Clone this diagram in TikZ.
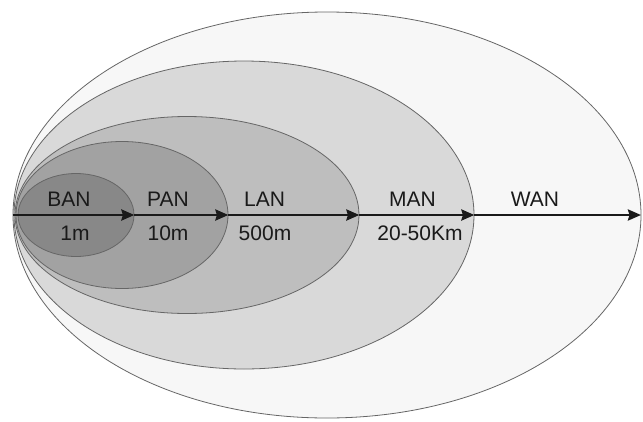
\documentclass[tikz,border=0pt]{standalone}
\usepackage{fontspec}
\setmainfont{Liberation Sans}
\usetikzlibrary{shapes.geometric,arrows.meta}

\definecolor{banfill}{HTML}{888888}
\definecolor{panfill}{HTML}{A2A2A2}
\definecolor{lanfill}{HTML}{BEBEBE}
\definecolor{manfill}{HTML}{D9D9D9}
\definecolor{wanfill}{HTML}{F7F7F7}
\definecolor{rimgray}{HTML}{666666}
\definecolor{inkgray}{HTML}{1A1A1A}

\tikzset{
  zone/.style={ellipse, draw=rimgray, line width=0.8pt, inner sep=0pt},
  reachline/.style={draw=inkgray, line width=2.6pt,
    -{Stealth[length=13pt, width=11pt, inset=1.5pt]}},
  tag/.style={anchor=base, text=inkgray, font=\fontsize{21}{24}\selectfont, inner sep=0pt}
}

\begin{document}
\begin{tikzpicture}[x=1pt, y=-1pt]
  \useasboundingbox (0,0) rectangle (643,421);

  % nested coverage areas, largest first
  \node[zone, fill=wanfill, minimum width=628pt, minimum height=406pt] (wan) at (327,215) {};
  \node[zone, fill=manfill, minimum width=460pt, minimum height=308pt] (man) at (244,215) {};
  \node[zone, fill=lanfill, minimum width=344pt, minimum height=197pt] (lan) at (187,215) {};
  \node[zone, fill=panfill, minimum width=212pt, minimum height=147pt] (pan) at (122,215) {};
  \node[zone, fill=banfill, minimum width=116pt, minimum height=83pt] (ban) at (76,215) {};

  \coordinate (tipend) at (641,215);

  % range axis
  \draw[reachline] (wan.west) -- (ban.east);
  \draw[reachline] (ban.east) -- (pan.east);
  \draw[reachline] (pan.east) -- (lan.east);
  \draw[reachline] (lan.east) -- (man.east);
  \draw[reachline] (man.east) -- (tipend);

  % names and ranges
  \node[tag] (tban) at (69,206) {BAN};
  \node[tag] (dban) at (75,240.5) {1m};
  \node[tag] (tpan) at (168,206) {PAN};
  \node[tag] (dpan) at (168,240.5) {10m};
  \node[tag] (tlan) at (264.5,206) {LAN};
  \node[tag] (dlan) at (265,240.5) {500m};
  \node[tag] (tman) at (412.5,206) {MAN};
  \node[tag] (dman) at (420,240.5) {20-50Km};
  \node[tag] (twan) at (535,206) {WAN};
\end{tikzpicture}
\end{document}
